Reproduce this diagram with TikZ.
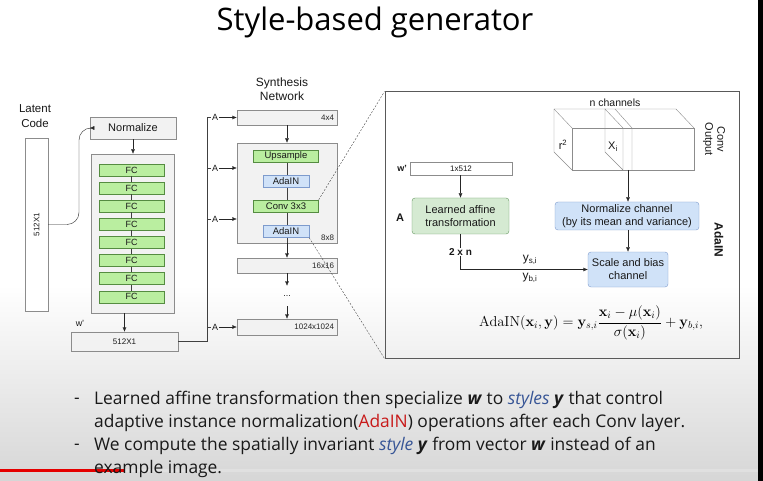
\documentclass[tikz,border=0pt]{standalone}
\usepackage[no-math]{fontspec}
\setmainfont{Liberation Sans}
\newfontfamily\slidefont{Open Sans}
\usetikzlibrary{arrows.meta,positioning}
\definecolor{fcGreen}{RGB}{186,238,160}
\definecolor{fcBorder}{RGB}{85,140,65}
\definecolor{adaBlue}{RGB}{208,226,248}
\definecolor{adaBorder}{RGB}{125,155,205}
\definecolor{affGreen}{RGB}{213,234,210}
\definecolor{affBorder}{RGB}{100,150,95}
\definecolor{styleBlue}{RGB}{55,85,150}
\definecolor{adaRed}{RGB}{200,25,25}
\newcommand{\diagSize}[1]{\fontsize{#1}{#1}\selectfont}
\newcommand{\myMapping}{%%
  %% Latent code.
  \node[labelStyle,align=center,font=\fontsize{11.5}{15}\selectfont] (latentText)
  at (35,116) {Latent\\Code};
  \node[boxStyle,fill=white,minimum width=23pt,minimum height=173pt] (latent)
  at (36.5,224.5) {\rotatebox{90}{512X1}};
  %% Normalize and the stack of FC layers.
  \node[boxStyle,minimum width=86pt,minimum height=22pt,font=\diagSize{11}]
  (normalize) at (133,128) {Normalize};
  \node[boxStyle,minimum width=83pt,minimum height=159pt] (fcStack)
  at (132.5,233.5) {};
  \foreach \k in {1,...,8}{
    \node[fcStyle] (fc\k) at (131.5,{170+(\k-1)*18.1}) {FC};
  }
  \foreach \k [count=\j from 2] in {1,...,7}{
    \draw[lineStyle] (fc\k.south) -- (fc\j.north);
  }
  %% Intermediate latent w.
  \node[boxStyle,minimum width=107pt,minimum height=19pt] (wVec)
  at (124.5,341.5) {512X1};
  \node[labelStyle] (wText) at (80,323) {w'};
  %% Connectors.
  \coordinate (bendL) at (79,175);
  \draw[arrowStyle,rounded corners=12pt] (latent.east) -| (bendL)
  |- (normalize.west);
  \draw[arrowStyle] (normalize.south) -- (normalize.south |- fcStack.north);
  \draw[arrowStyle] (wVec.north |- fcStack.south) -- (wVec.north);
}
\newcommand{\mySynthesis}{%%
  \node[labelStyle,align=center,font=\fontsize{12}{14}\selectfont] (synthText)
  at (282,89) {Synthesis\\Network};
  %% Resolution blocks.
  \node[boxStyle,minimum width=100pt,minimum height=15pt] (res4)
  at (287,117.5) {};
  \node[boxStyle,minimum width=100pt,minimum height=100pt] (res8)
  at (287,193) {};
  \node[boxStyle,minimum width=100pt,minimum height=15pt] (res16)
  at (287,265.5) {};
  \node[labelStyle,minimum height=20pt] (dots) at (287,296) {...};
  \node[boxStyle,minimum width=100pt,minimum height=16pt] (res1024)
  at (287,327) {};
  \node[sizeStyle,left=3pt of res4.east] (res4Text) {4x4};
  \node[sizeStyle,above left=2pt and 3pt of res8.south east] (res8Text) {8x8};
  \node[sizeStyle,left=3pt of res16.east] (res16Text) {16x16};
  \node[sizeStyle,left=3pt of res1024.east] (res1024Text) {1024x1024};
  %% Inside the 8x8 block.
  \draw[lineStyle] (287,156) -- (res8.south);
  \node[fcStyle,font=\diagSize{9.5}] (upsample) at (286,156.5) {Upsample};
  \node[adaStyle] (adainOne) at (286,181) {AdaIN};
  \node[fcStyle,font=\diagSize{9.5}] (conv) at (286,206) {Conv 3x3};
  \node[adaStyle] (adainTwo) at (286,231.5) {AdaIN};
  %% Arrows between the blocks.
  \draw[arrowStyle] (res4) -- (res8);
  \draw[arrowStyle] (res8) -- (res16);
  \draw[arrowStyle] (res16) -- (dots);
  \draw[arrowStyle] (dots) -- (res1024);
  %% The bus of styles.
  \coordinate (busTop) at (207,117.5);
  \draw[lineStyle] (wVec.east) -| (busTop);
  \foreach \aName/\row/\target in
  {aOne/117.5/res4,aTwo/168/res8,aThree/219/res8,aFour/327/res1024}{
    \node[labelStyle,inner sep=1pt] (\aName) at (215,\row) {A};
    \draw[lineStyle] (busTop |- \aName) -- (\aName.west);
    \draw[arrowStyle] (\aName.east) -- (\target.west |- \aName);
  }
}
\newcommand{\myAdaIN}{%%
  \node[draw=black!65,line width=1pt,minimum width=354pt,minimum height=266pt]
  (adainBox) at (562,225) {};
  \draw[zoomStyle] (conv.north east) -- (adainBox.north west);
  \draw[zoomStyle] (adainTwo.south east) -- (adainBox.south west);
  %% Conv output block.
  \draw[cubeStyle] (572,128) rectangle (694,170);
  \draw[cubeStyle] (572,170) -- (554,152) -- (554,109) -- (676,109) -- (694,128);
  \draw[cubeStyle] (554,109) -- (572,128);
  \draw[cubeStyle] (623,170) -- (605,152) -- (605,109) -- (623,128) -- (623,170);
  \draw[cubeStyle] (615,109) -- (632,128) -- (632,170);
  \coordinate (convOut) at (628,170);
  \node[labelStyle,font=\diagSize{10.5}] (chanText) at (615,103) {n channels};
  \node[labelStyle,font=\diagSize{11}] (rText) at (563,145) {r\textsuperscript{2}};
  \node[labelStyle,font=\diagSize{11}] (xText) at (613,147) {X\textsubscript{i}};
  \node[labelStyle,rotate=-90,align=center,font=\fontsize{11}{12}\selectfont]
  (convText) at (714,139) {Conv\\Output};
  \node[labelStyle,rotate=-90,font=\bfseries\diagSize{12}] (adaText)
  at (719,240) {AdaIN};
  %% Style branch.
  \node[boxStyle,fill=white,minimum width=102pt,minimum height=13pt] (wIn)
  at (461,168.5) {1x512};
  \node[labelStyle,font=\bfseries\diagSize{9}] (wInText) at (402,168) {w'};
  \node[roundStyle,fill=affGreen,draw=affBorder,minimum width=97pt,
  minimum height=36pt] (affine) at (460.5,216) {Learned affine\\transformation};
  \node[labelStyle,font=\bfseries\diagSize{11}] (affText) at (400,218) {A};
  \node[roundStyle,fill=adaBlue,draw=adaBorder,minimum width=144pt,
  minimum height=28pt] (normChan) at (627,216)
  {Normalize channel\\(by its mean and variance)};
  \node[roundStyle,fill=adaBlue,draw=adaBorder,minimum width=80pt,
  minimum height=35pt] (scaleBias) at (628,269.5) {Scale and bias\\channel};
  \draw[arrowStyle] (wIn.south -| affine.north) -- (affine.north);
  \draw[arrowStyle] (affine.south) |- (scaleBias.west);
  \draw[arrowStyle] (convOut) -- (normChan.north -| convOut);
  \draw[arrowStyle] (normChan.south -| scaleBias.north) -- (scaleBias.north);
  \node[labelStyle,fill=white,font=\bfseries\diagSize{10}] (dimText)
  at (460.5,252) {2 x n};
  \node[labelStyle,font=\diagSize{12}] (ysText) at (530,260) {y\textsubscript{s,i}};
  \node[labelStyle,font=\diagSize{12}] (ybText) at (530,278) {y\textsubscript{b,i}};
  %% The formula.
  \node[font=\fontsize{14.3}{16}\selectfont] (formula) at (591,323)
  {$\displaystyle \mathrm{AdaIN}(\mathbf{x}_i,\mathbf{y})=\mathbf{y}_{s,i}
  \frac{\mathbf{x}_i-\mu(\mathbf{x}_i)}{\sigma(\mathbf{x}_i)}+\mathbf{y}_{b,i},$};
}
\newcommand{\myCaption}{%%
  \node[captionStyle] (dashOne) at (77,401) {-};
  \node[captionStyle] (dashTwo) at (77,447) {-};
  \node[captionStyle,anchor=north west,align=left] (itemOne) at (94,390.5)
  {Learned affine transformation then specialize \textbf{\textit{w}} to
  \textcolor{styleBlue}{\textit{styles}} \textbf{\textit{y}} that control\\
  adaptive instance normalization(\textcolor{adaRed}{AdaIN}) operations after
  each Conv layer.};
  \node[captionStyle,anchor=north west,align=left] (itemTwo) at (94,436.5)
  {We compute the spatially invariant \textcolor{styleBlue}{\textit{style}}
  \textbf{\textit{y}} from vector \textbf{\textit{w}} instead of an\\
  example image.};
}

\begin{document}
\begin{tikzpicture}[x=1pt,y=-1pt,%%
  lineStyle/.style={-,thin,black!75},%%
  arrowStyle/.style={-{Latex[length=4.5pt,width=4pt]},thin,black!85},%%
  zoomStyle/.style={thin,black!70,dash pattern=on 2pt off 1.5pt},%%
  cubeStyle/.style={thin,black!45},%%
  labelStyle/.style={inner sep=1pt,text=black!90,font=\diagSize{9}},%%
  sizeStyle/.style={inner sep=0pt,text=black!85,font=\diagSize{8}},%%
  boxStyle/.style={draw=black!45,fill=black!5,inner sep=0pt,text=black!90,
    font=\diagSize{8}},%%
  fcStyle/.style={draw=fcBorder,fill=fcGreen,minimum width=65pt,
    minimum height=12pt,inner sep=0pt,text=black!90,font=\diagSize{9}},%%
  adaStyle/.style={draw=adaBorder,fill=adaBlue,minimum width=46pt,
    minimum height=12pt,inner sep=0pt,text=black!90,font=\diagSize{9.5}},%%
  roundStyle/.style={rounded corners=3pt,align=center,inner sep=0pt,
    text=black!90,font=\fontsize{11}{13}\selectfont},%%
  captionStyle/.style={inner sep=0pt,text=black!90,
    font=\slidefont\fontsize{17.4}{23}\selectfont}
]
\useasboundingbox (0,0) rectangle (763,481);
%%
%% Slide background.
\fill[white] (0,0) rectangle (763,481);
\shade[top color=white,bottom color=black!16] (0,285) rectangle (758,481);
\fill[black] (758,0) rectangle (763,481);
\fill[black!12] (0,469) rectangle (758,471.5);
\fill[red!90!black] (0,469) rectangle (125,471.5);
%%
\node[inner sep=0pt,font=\slidefont\fontsize{31}{34}\selectfont] (title)
at (375,22) {Style-based generator};
%%
\myMapping
\mySynthesis
\myAdaIN
\myCaption
\end{tikzpicture}
\end{document}
